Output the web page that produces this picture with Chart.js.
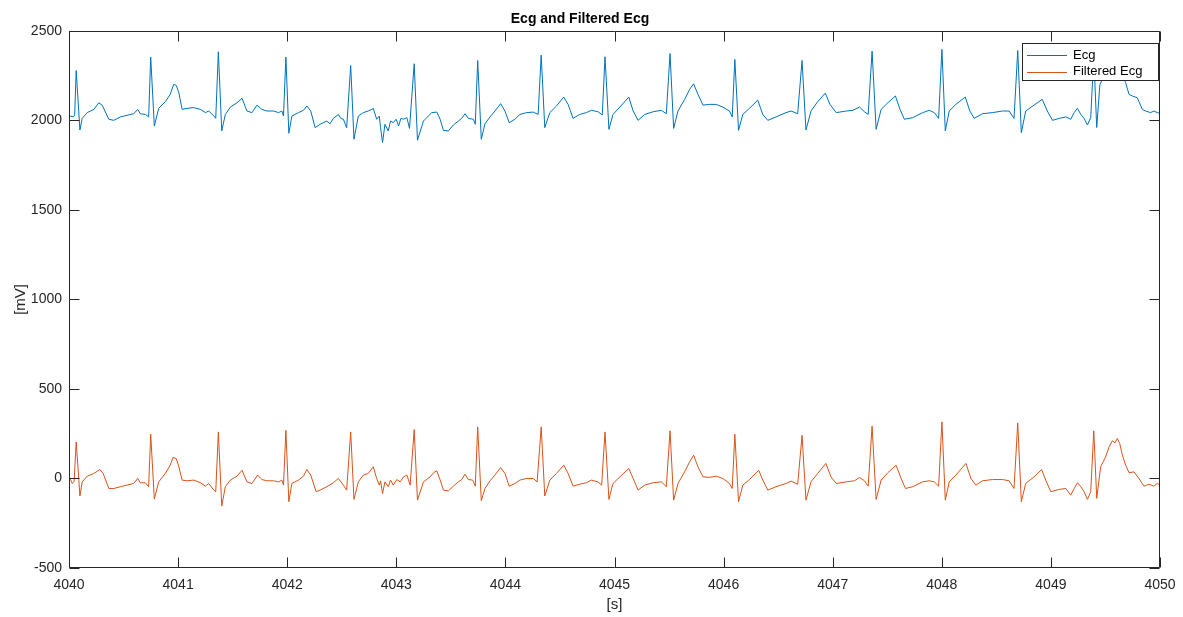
<!DOCTYPE html>
<html><head><meta charset="utf-8">
<script src="https://cdn.jsdelivr.net/npm/chart.js@4.4.0/dist/chart.umd.min.js"></script>
<style>html,body{margin:0;padding:0;background:#fff;}</style>
</head><body>
<canvas id="c" width="1183" height="617"></canvas>
<script>
const ecgTime = [4040.000,4040.014,4040.039,4040.052,4040.066,4040.100,4040.121,4040.167,4040.228,4040.273,4040.304,4040.365,4040.411,4040.471,4040.532,4040.593,4040.630,4040.654,4040.700,4040.730,4040.749,4040.782,4040.822,4040.883,4040.928,4040.959,4040.983,4041.007,4041.037,4041.083,4041.144,4041.205,4041.250,4041.281,4041.327,4041.345,4041.369,4041.400,4041.433,4041.479,4041.540,4041.586,4041.631,4041.677,4041.723,4041.768,4041.814,4041.875,4041.921,4041.951,4041.966,4041.988,4042.015,4042.043,4042.104,4042.149,4042.180,4042.216,4042.256,4042.302,4042.363,4042.393,4042.423,4042.469,4042.490,4042.515,4042.545,4042.582,4042.612,4042.652,4042.698,4042.743,4042.774,4042.789,4042.820,4042.844,4042.856,4042.874,4042.896,4042.926,4042.947,4042.972,4042.999,4043.021,4043.042,4043.066,4043.097,4043.121,4043.164,4043.194,4043.249,4043.264,4043.325,4043.371,4043.402,4043.432,4043.478,4043.523,4043.569,4043.600,4043.630,4043.660,4043.706,4043.724,4043.746,4043.779,4043.813,4043.859,4043.904,4043.956,4043.996,4044.035,4044.087,4044.133,4044.194,4044.255,4044.300,4044.328,4044.361,4044.407,4044.468,4044.535,4044.575,4044.620,4044.681,4044.742,4044.788,4044.849,4044.888,4044.913,4044.949,4044.986,4045.049,4045.131,4045.171,4045.216,4045.277,4045.354,4045.430,4045.475,4045.509,4045.542,4045.582,4045.643,4045.689,4045.725,4045.765,4045.811,4045.872,4045.932,4045.993,4046.054,4046.079,4046.103,4046.137,4046.176,4046.237,4046.313,4046.359,4046.405,4046.481,4046.572,4046.618,4046.679,4046.719,4046.755,4046.801,4046.862,4046.932,4046.975,4047.032,4047.124,4047.185,4047.246,4047.291,4047.325,4047.361,4047.398,4047.444,4047.505,4047.575,4047.617,4047.657,4047.733,4047.825,4047.885,4047.931,4047.971,4048.001,4048.032,4048.068,4048.129,4048.215,4048.257,4048.297,4048.373,4048.464,4048.556,4048.617,4048.662,4048.696,4048.729,4048.769,4048.845,4048.921,4048.967,4049.015,4049.076,4049.137,4049.182,4049.213,4049.243,4049.274,4049.304,4049.335,4049.365,4049.393,4049.420,4049.449,4049.499,4049.533,4049.563,4049.588,4049.609,4049.631,4049.655,4049.685,4049.716,4049.746,4049.792,4049.838,4049.868,4049.914,4049.944,4049.975,4050.000];
const ecgValues = [2030,2024,2019,2030,2278,1946,2011,2043,2061,2098,2085,2006,2000,2019,2028,2037,2061,2037,2033,2019,2353,1968,2067,2104,2145,2201,2195,2154,2061,2067,2071,2061,2043,2052,2024,2011,2383,1941,2033,2074,2098,2123,2052,2043,2085,2061,2052,2052,2043,2052,2024,2353,1928,2024,2043,2056,2080,2052,1959,1978,1996,1981,2011,2033,2011,2006,1959,2306,1894,2024,2043,2052,2061,2067,2006,2024,1959,1876,1978,1941,1996,1987,2006,1968,2011,2006,2015,1955,2316,1889,1996,2006,2043,2046,2006,1944,1941,1974,1996,2011,2037,2011,2006,1978,2334,1894,1981,2019,2052,2093,2052,1987,2006,2033,2043,2046,2033,2364,1959,2043,2080,2130,2089,2011,2033,2043,2056,2048,2030,2355,1950,2033,2074,2130,2052,2000,2033,2048,2056,2037,2373,1955,2052,2117,2173,2204,2145,2085,2089,2089,2074,2052,2019,2340,1944,2033,2067,2113,2033,2000,2019,2043,2052,2037,2334,1946,2052,2104,2152,2089,2043,2052,2056,2074,2048,2033,2386,1950,2061,2098,2136,2061,2006,2015,2043,2056,2043,2011,2396,1941,2052,2089,2130,2052,2011,2037,2043,2052,2052,2011,2390,1931,2052,2085,2117,2052,2000,2011,2019,2006,2043,2067,2033,2011,1974,2015,2360,1960,2200,2260,2310,2340,2330,2350,2320,2260,2210,2145,2136,2126,2061,2052,2043,2052,2043,2040];
const filteredTime = [4040.000,4040.014,4040.030,4040.047,4040.066,4040.100,4040.121,4040.167,4040.228,4040.283,4040.313,4040.365,4040.411,4040.471,4040.532,4040.593,4040.630,4040.654,4040.700,4040.730,4040.749,4040.782,4040.822,4040.883,4040.928,4040.953,4040.983,4041.007,4041.037,4041.083,4041.144,4041.205,4041.250,4041.281,4041.327,4041.345,4041.369,4041.400,4041.433,4041.479,4041.540,4041.586,4041.631,4041.677,4041.729,4041.768,4041.814,4041.875,4041.921,4041.951,4041.966,4041.988,4042.015,4042.043,4042.104,4042.149,4042.180,4042.216,4042.265,4042.302,4042.363,4042.423,4042.469,4042.515,4042.545,4042.582,4042.612,4042.652,4042.698,4042.743,4042.789,4042.820,4042.844,4042.856,4042.874,4042.896,4042.926,4042.947,4042.972,4043.005,4043.036,4043.066,4043.097,4043.127,4043.164,4043.194,4043.249,4043.310,4043.341,4043.371,4043.402,4043.432,4043.478,4043.523,4043.569,4043.600,4043.630,4043.660,4043.700,4043.724,4043.746,4043.779,4043.813,4043.859,4043.904,4043.956,4043.996,4044.035,4044.087,4044.133,4044.194,4044.255,4044.291,4044.328,4044.361,4044.407,4044.468,4044.535,4044.575,4044.620,4044.681,4044.742,4044.788,4044.849,4044.882,4044.913,4044.949,4044.986,4045.049,4045.131,4045.171,4045.216,4045.277,4045.354,4045.430,4045.475,4045.509,4045.542,4045.582,4045.643,4045.689,4045.725,4045.765,4045.811,4045.872,4045.932,4045.993,4046.054,4046.079,4046.103,4046.137,4046.176,4046.237,4046.322,4046.359,4046.405,4046.481,4046.572,4046.618,4046.679,4046.719,4046.755,4046.801,4046.862,4046.938,4046.984,4047.032,4047.124,4047.200,4047.246,4047.291,4047.325,4047.361,4047.398,4047.444,4047.505,4047.581,4047.627,4047.667,4047.733,4047.825,4047.885,4047.931,4047.971,4048.001,4048.032,4048.068,4048.129,4048.221,4048.267,4048.312,4048.373,4048.464,4048.556,4048.617,4048.662,4048.696,4048.729,4048.769,4048.845,4048.915,4048.952,4048.999,4049.076,4049.137,4049.182,4049.213,4049.243,4049.274,4049.304,4049.335,4049.365,4049.393,4049.420,4049.456,4049.502,4049.533,4049.563,4049.588,4049.609,4049.631,4049.655,4049.685,4049.716,4049.762,4049.807,4049.853,4049.899,4049.944,4049.975,4050.000];
const filteredValues = [5,-6,-28,-15,204,-98,-19,13,28,50,28,-56,-56,-46,-37,-28,0,-24,-24,-46,247,-115,-19,28,74,117,111,65,-9,-13,-9,-24,-43,-28,-65,-74,260,-154,-46,-9,13,46,-19,-28,19,-6,-13,-13,-19,-9,-37,269,-130,-28,-9,13,50,19,-74,-65,-46,-24,0,-37,-65,260,-117,-19,19,28,65,0,-37,-13,-84,-19,-46,-9,-37,-6,-19,9,19,-37,273,-121,-19,9,32,43,-9,-65,-69,-43,-19,-6,24,-6,-9,-43,288,-124,-56,-13,19,61,28,-43,-28,-9,0,0,-19,288,-98,-9,28,74,28,-43,-32,-24,-9,-19,-37,260,-117,-28,9,56,0,-65,-37,-24,-19,-46,266,-121,-28,37,93,130,65,9,6,13,0,-28,-56,247,-130,-37,-6,46,-9,-65,-46,-28,-15,-32,241,-121,-19,28,84,9,-28,-19,-13,6,-13,-43,292,-117,-9,32,74,0,-56,-46,-19,-13,-19,-43,316,-121,-19,19,84,0,-37,-13,-6,-6,-13,-56,310,-130,-28,9,50,-9,-74,-61,-56,-93,-56,-24,-46,-74,-117,-74,266,-111,65,121,176,210,199,223,195,130,74,32,37,0,-43,-32,-43,-28,-35];
const seriesNames = ['Ecg', 'Filtered Ecg'];
const seriesColors = ['#0072BD', '#D95319'];
const xTickValues = [4040,4041,4042,4043,4044,4045,4046,4047,4048,4049,4050];
const yTickValues = [-500,0,500,1000,1500,2000,2500];
const titleText = 'Ecg and Filtered Ecg';
const xLabel = '[s]';
const yLabel = '[mV]';

const FONT = 'Liberation Sans, Arial, Helvetica, sans-serif';
const AXC = '#262626';

const boxPlugin = {
  id: 'matlabBox',
  afterDatasetsDraw(chart) {
    const {ctx, chartArea: a, scales} = chart;
    ctx.save();
    ctx.strokeStyle = AXC;
    ctx.lineWidth = 1;
    const L = Math.round(a.left) + 0.5, R = Math.round(a.right) - 0.5;
    const T = Math.round(a.top) + 0.5, B = Math.round(a.bottom) - 0.5;
    ctx.beginPath();
    ctx.rect(L, T, R - L, B - T);
    const tl = 10;
    xTickValues.forEach(v => {
      const x = Math.round(scales.x.getPixelForValue(v)) + 0.5;
      ctx.moveTo(x, B); ctx.lineTo(x, B - tl);
      ctx.moveTo(x, T); ctx.lineTo(x, T + tl);
    });
    yTickValues.forEach(v => {
      const y = Math.round(scales.y.getPixelForValue(v)) + 0.5;
      ctx.moveTo(L, y); ctx.lineTo(L + tl, y);
      ctx.moveTo(R, y); ctx.lineTo(R - tl, y);
    });
    ctx.stroke();
    ctx.restore();
  }
};

const legendPlugin = {
  id: 'matlabLegend',
  afterDraw(chart) {
    const {ctx} = chart;
    const bx = 1022.5, by = 43.5, bw = 136, bh = 37;
    ctx.save();
    ctx.fillStyle = '#fff';
    ctx.fillRect(bx, by, bw, bh);
    ctx.strokeStyle = AXC;
    ctx.lineWidth = 1;
    ctx.strokeRect(bx, by, bw, bh);
    ctx.font = '13px ' + FONT;
    ctx.textBaseline = 'middle';
    ctx.textAlign = 'left';
    chart.data.datasets.forEach((ds, i) => {
      const y = 55 + i * 16.5;
      ctx.strokeStyle = ds.borderColor;
      ctx.beginPath();
      ctx.moveTo(1027, Math.round(y) + 0.5);
      ctx.lineTo(1067, Math.round(y) + 0.5);
      ctx.stroke();
      ctx.fillStyle = '#000';
      ctx.fillText(ds.label, 1073, y);
    });
    ctx.restore();
  }
};

new Chart(document.getElementById('c'), {
  type: 'line',
  data: {
    datasets: [
      { label: seriesNames[0], data: ecgTime.map((t, i) => ({x: t, y: ecgValues[i]})), borderColor: seriesColors[0], borderWidth: 1, pointRadius: 0, tension: 0, fill: false },
      { label: seriesNames[1], data: filteredTime.map((t, i) => ({x: t, y: filteredValues[i]})), borderColor: seriesColors[1], borderWidth: 1, pointRadius: 0, tension: 0, fill: false }
    ]
  },
  options: {
    responsive: false,
    animation: false,
    devicePixelRatio: 1,
    parsing: false,
    normalized: true,
    layout: { padding: { left: 0, right: 23, top: 0, bottom: 0 } },
    plugins: {
      legend: { display: false },
      tooltip: { enabled: false },
      title: { display: true, text: titleText, color: '#000', font: { family: FONT, size: 14, weight: 'bold' }, padding: { top: 11, bottom: 3 } }
    },
    scales: {
      x: {
        type: 'linear', min: 4040, max: 4050,
        afterBuildTicks: s => { s.ticks = xTickValues.map(v => ({ value: v })); },
        afterFit: s => { s.height = 49; s.paddingLeft = 0; s.paddingRight = 0; },
        grid: { display: false, drawTicks: false },
        border: { display: false },
        ticks: { color: AXC, font: { family: FONT, size: 14 }, padding: 9, maxRotation: 0, autoSkip: false, callback: v => String(v) },
        title: { display: true, text: xLabel, color: AXC, font: { family: FONT, size: 15 }, padding: { top: 0, bottom: 3 } }
      },
      y: {
        type: 'linear', min: -500, max: 2500,
        afterBuildTicks: s => { s.ticks = yTickValues.map(v => ({ value: v })); },
        afterFit: s => { s.width = 69; s.paddingTop = 0; s.paddingBottom = 0; },
        grid: { display: false, drawTicks: false },
        border: { display: false },
        ticks: { color: AXC, font: { family: FONT, size: 14 }, padding: 7, autoSkip: false, callback: v => String(v) },
        title: { display: true, text: yLabel, color: AXC, font: { family: FONT, size: 15 }, padding: { top: 12, bottom: 0 } }
      }
    }
  },
  plugins: [boxPlugin, legendPlugin]
});
</script>
</body></html>
